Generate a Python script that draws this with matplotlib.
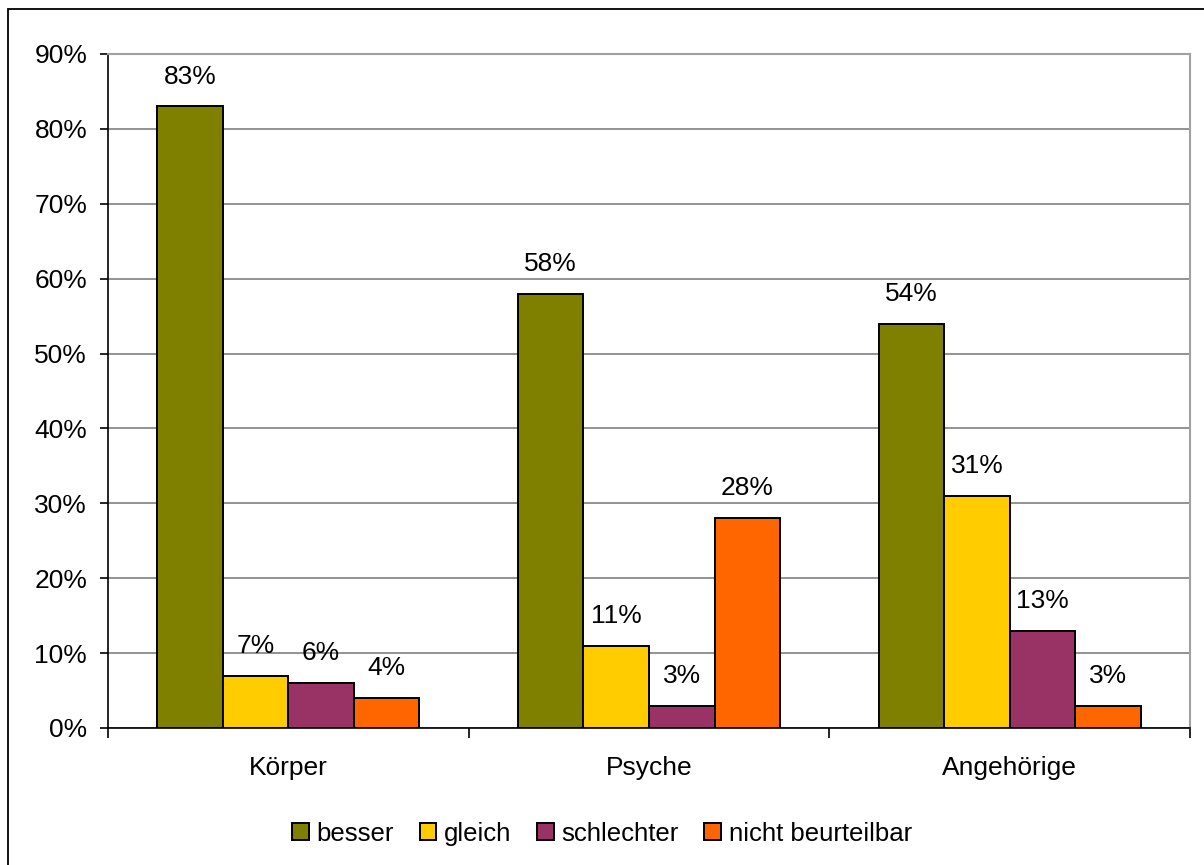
import matplotlib.pyplot as plt
import numpy as np
from matplotlib.patches import Rectangle
from matplotlib.ticker import FixedLocator, PercentFormatter

plt.rcParams['font.family'] = ['Liberation Sans', 'DejaVu Sans']

categories = ['Körper', 'Psyche', 'Angehörige']
series = ['besser', 'gleich', 'schlechter', 'nicht beurteilbar']
besser = [83, 58, 54]
gleich = [7, 11, 31]
schlechter = [6, 3, 13]
nicht_beurteilbar = [4, 28, 3]
colors = ['#808000', '#FFCC00', '#993366', '#FF6600']

fig = plt.figure(figsize=(12.04, 8.65), dpi=100)
ax = fig.add_axes([0.0897, 0.1584, 0.8987, 0.7792])

# frame around the whole chart
fig.patches.append(Rectangle((0.0066, -0.05), 1.1, 1.0396, transform=fig.transFigure,
                             fill=False, edgecolor='black', linewidth=1.3))

x = np.arange(len(categories))
w = 0.1817
values = [besser, gleich, schlechter, nicht_beurteilbar]
for i, (name, vals, c) in enumerate(zip(series, values, colors)):
    pos = x + (i - 1.5) * w
    bars = ax.bar(pos, vals, width=w, color=c, edgecolor='black', linewidth=1.4,
                  label=name, zorder=3)
    for b, v in zip(bars, vals):
        ax.annotate(f'{v}%', (b.get_x() + b.get_width() / 2, v), xytext=(0, 21.5),
                    textcoords='offset points', ha='center', va='center', fontsize=19)

ax.set_xlim(-0.5, 2.5)
ax.set_ylim(0, 90)
ax.set_yticks(range(0, 91, 10))
ax.yaxis.set_major_formatter(PercentFormatter(decimals=0))
ax.yaxis.grid(True, color='#808080', linewidth=1.2, zorder=0)
ax.set_axisbelow(True)

ax.set_xticks(x)
ax.set_xticklabels(categories)
ax.xaxis.set_minor_locator(FixedLocator([-0.5, 0.5, 1.5, 2.5]))
ax.tick_params(axis='x', which='major', length=0, pad=20, labelsize=19)
ax.tick_params(axis='x', which='minor', length=7, width=1.2, direction='out')
ax.tick_params(axis='y', length=6, width=1.2, direction='out', labelsize=19, pad=9)

# gray plot-area frame, black value/category axes
for s in ['top', 'right']:
    ax.spines[s].set_color('#a0a0a0')
    ax.spines[s].set_linewidth(1.5)
for s in ['left', 'bottom']:
    ax.spines[s].set_color('black')
    ax.spines[s].set_linewidth(1.2)
ax.tick_params(which='both', color='black')

fig.legend(loc='center', bbox_to_anchor=(0.5, 0.036), ncol=4, frameon=False,
           fontsize=18.5, handlelength=0.65, handleheight=0.65, handletextpad=0.3,
           columnspacing=1.0)

fig.savefig('out.png', dpi=100)
